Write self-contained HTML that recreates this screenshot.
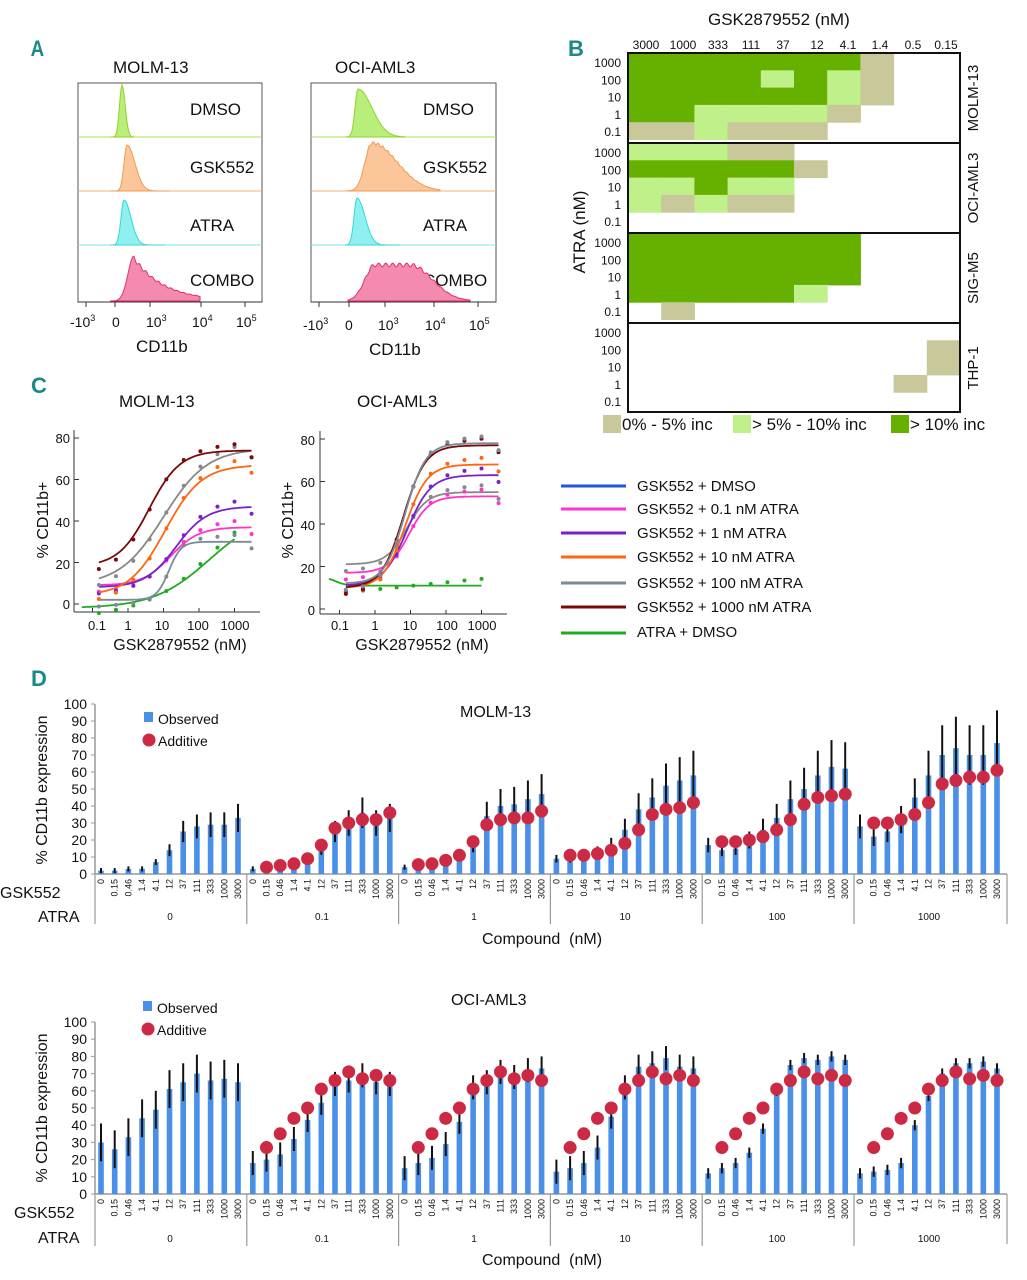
<!DOCTYPE html>
<html><head><meta charset="utf-8"><style>
html,body{margin:0;padding:0;background:#fff}
svg{display:block;font-family:"Liberation Sans",sans-serif}
.L{font-family:"Liberation Sans",sans-serif;font-weight:bold;fill:#188a8a;font-size:22px}
</style></head><body>
<svg id="s" width="1027" height="1280" viewBox="0 0 1027 1280" xmlns="http://www.w3.org/2000/svg">
<rect width="1027" height="1280" fill="#fff"/>
<text class="L" x="31" y="56" transform="scale(0.85,1) translate(5,0)">A</text>
<text class="L" x="568" y="56">B</text>
<text class="L" x="31" y="393">C</text>
<text class="L" x="31" y="686">D</text>

<!-- Panel A -->
<g font-size="17" fill="#111">
<text x="113" y="73">MOLM-13</text>
<text x="335" y="73">OCI-AML3</text>
<g font-size="17">
<text x="190" y="115">DMSO</text><text x="190" y="173">GSK552</text><text x="190" y="231">ATRA</text><text x="190" y="286">COMBO</text>
<text x="423" y="115">DMSO</text><text x="423" y="173">GSK552</text><text x="423" y="231">ATRA</text><text x="423" y="286">COMBO</text>
</g>
<g font-size="14">
<text x="70" y="327">-10<tspan font-size="9" dy="-6">3</tspan></text><text x="112" y="327">0</text><text x="146" y="327">10<tspan font-size="9" dy="-6">3</tspan></text><text x="192" y="327">10<tspan font-size="9" dy="-6">4</tspan></text><text x="236" y="327">10<tspan font-size="9" dy="-6">5</tspan></text>
<text x="303" y="330">-10<tspan font-size="9" dy="-6">3</tspan></text><text x="345" y="330">0</text><text x="378" y="330">10<tspan font-size="9" dy="-6">3</tspan></text><text x="425" y="330">10<tspan font-size="9" dy="-6">4</tspan></text><text x="469" y="330">10<tspan font-size="9" dy="-6">5</tspan></text>
</g>
<text x="136" y="352">CD11b</text>
<text x="369" y="355">CD11b</text>
</g>
<g id="A"></g>

<!-- Panel B -->
<g id="B"></g>
<g fill="#111">
<text x="708" y="25" font-size="17">GSK2879552 (nM)</text>
<g font-size="12" text-anchor="middle">
<text x="646" y="49">3000</text><text x="683" y="49">1000</text><text x="718" y="49">333</text><text x="751" y="49">111</text><text x="783" y="49">37</text><text x="817" y="49">12</text><text x="848" y="49">4.1</text><text x="880" y="49">1.4</text><text x="913" y="49">0.5</text><text x="946" y="49">0.15</text>
</g>
<g font-size="12" text-anchor="end" id="Brows"></g>
<text transform="translate(585,232) rotate(-90)" font-size="17" text-anchor="middle">ATRA (nM)</text>
<g font-size="15" text-anchor="middle">
<text transform="translate(978,98) rotate(-90)">MOLM-13</text>
<text transform="translate(978,188) rotate(-90)">OCI-AML3</text>
<text transform="translate(978,278) rotate(-90)">SIG-M5</text>
<text transform="translate(978,368) rotate(-90)">THP-1</text>
</g>
<g font-size="17">
<rect x="603" y="415" width="18" height="18" fill="#c8c89a"/><text x="622" y="430">0% - 5% inc</text>
<rect x="733" y="415" width="18" height="18" fill="#bff08a"/><text x="752" y="430">&gt; 5% - 10% inc</text>
<rect x="891" y="415" width="18" height="18" fill="#66b000"/><text x="910" y="430">&gt; 10% inc</text>
</g>
</g>

<!-- Panel C -->
<g fill="#111">
<text x="119" y="407" font-size="17">MOLM-13</text>
<text x="357" y="407" font-size="17">OCI-AML3</text>
<g font-size="13" text-anchor="end">
<text x="70" y="443">80</text><text x="70" y="485">60</text><text x="70" y="527">40</text><text x="70" y="569">20</text><text x="70" y="609">0</text>
<text x="315" y="445">80</text><text x="315" y="487">60</text><text x="315" y="530">40</text><text x="315" y="573">20</text><text x="315" y="615">0</text>
</g>
<g font-size="13" text-anchor="middle">
<text x="97" y="630">0.1</text><text x="128" y="630">1</text><text x="162" y="630">10</text><text x="198" y="630">100</text><text x="235" y="630">1000</text>
<text x="340" y="630">0.1</text><text x="375" y="630">1</text><text x="410" y="630">10</text><text x="447" y="630">100</text><text x="482" y="630">1000</text>
</g>
<g font-size="16" text-anchor="middle">
<text x="180" y="650">GSK2879552 (nM)</text>
<text x="422" y="650">GSK2879552 (nM)</text>
<text transform="translate(48,520) rotate(-90)">% CD11b+</text>
<text transform="translate(293,520) rotate(-90)">% CD11b+</text>
</g>
<g font-size="15">
<text x="637" y="491">GSK552 + DMSO</text>
<text x="637" y="514">GSK552 + 0.1 nM ATRA</text>
<text x="637" y="538">GSK552 + 1 nM ATRA</text>
<text x="637" y="562">GSK552 + 10 nM ATRA</text>
<text x="637" y="588">GSK552 + 100 nM ATRA</text>
<text x="637" y="612">GSK552 + 1000 nM ATRA</text>
<text x="637" y="637">ATRA + DMSO</text>
</g>
</g>
<g id="C"></g>

<!-- Panel D -->
<g id="D"></g>
<g fill="#111">
<text x="460" y="717" font-size="16">MOLM-13</text>
<text x="451" y="1005" font-size="16">OCI-AML3</text>
<g font-size="14">
<text x="158" y="724">Observed</text><text x="158" y="746">Additive</text>
<text x="157" y="1013">Observed</text><text x="157" y="1035">Additive</text>
</g>
<g font-size="16">
<text x="0" y="898">GSK552</text><text x="38" y="922">ATRA</text>
<text x="14" y="1218">GSK552</text><text x="38" y="1243">ATRA</text>
<text x="482" y="944">Compound&#160; (nM)</text>
<text x="482" y="1265">Compound&#160; (nM)</text>
</g>
<g font-size="16" text-anchor="middle">
<text transform="translate(47,790) rotate(-90)">% CD11b expression</text>
<text transform="translate(47,1108) rotate(-90)">% CD11b expression</text>
</g>
<g font-size="10" text-anchor="middle">
<text x="170" y="920">0</text><text x="322" y="920">0.1</text><text x="474" y="920">1</text><text x="625" y="920">10</text><text x="777" y="920">100</text><text x="929" y="920">1000</text>
<text x="170" y="1242">0</text><text x="322" y="1242">0.1</text><text x="474" y="1242">1</text><text x="625" y="1242">10</text><text x="777" y="1242">100</text><text x="929" y="1242">1000</text>
</g>
<g id="Dy" font-size="14" text-anchor="end"></g>
<g id="Dx" font-size="9" text-anchor="end"></g>
</g>
</svg>
<script>
var NS="http://www.w3.org/2000/svg";
function el(p,t,a,txt){var e=document.createElementNS(NS,t);for(var k in a)e.setAttribute(k,a[k]);if(txt!==undefined)e.textContent=txt;document.getElementById(p).appendChild(e);return e;}
// Panel A
function hist(x0,x1,yb,h,f,stroke,fill){var d="M"+x0+","+yb;for(var x=x0;x<=x1;x+=1){d+=" L"+x+","+(yb-h*f(x)).toFixed(1);}d+=" L"+x1+","+yb+"Z";el("A","path",{d:d,fill:fill,stroke:stroke,"stroke-width":1});}
function sk(c,wl,wr){return function(x){var w=x<c?wl:wr;return Math.exp(-Math.pow((x-c)/w,2)/2);}}
[[78,262],[311,496]].forEach(function(b,i){el("A","rect",{x:b[0],y:83,width:b[1]-b[0],height:219,fill:"none",stroke:"#555","stroke-width":1});
 [[137,"#a8e060"],[191,"#f5b07a"],[245,"#7ee8ee"]].forEach(function(a){el("A","line",{x1:b[0],x2:b[1],y1:a[0],y2:a[0],stroke:a[1]});});
 el("A","line",{x1:b[0],x2:b[1],y1:302,y2:302,stroke:"#333"});
});
var wig=function(f,a){return function(x){return f(x)*(1+a*Math.sin(x*1.3));};};
hist(110,135,137,52,sk(122,2.5,3.2),"#8cd42a","#b9ee7a");
hist(110,170,191,46,sk(127,3,8),"#f09a50","#fbc79a");
hist(110,165,245,45,sk(124,3,7),"#35d8d8","#8ff0f0");
hist(110,200,301,45,function(x){return x<134?Math.exp(-Math.pow((x-134)/6,2)/2):Math.exp(-(x-134)/30)*(0.95+0.05*Math.sin(x));},"#e0306a","#f58ab0");
hist(345,405,137,48,sk(358,3,14),"#8cd42a","#b9ee7a");
hist(347,440,191,48,wig(sk(372,7,25),0.03),"#f09a50","#fbc79a");
hist(345,400,245,47,sk(357,3,8),"#35d8d8","#8ff0f0");
hist(348,470,301,38,function(x){var v=x<375?Math.exp(-Math.pow((x-375)/10,2)/2):(x<410?1:Math.exp(-Math.pow((x-410)/22,2)/2));return v*(0.95+0.05*Math.sin(x*0.9));},"#e0306a","#f58ab0");
[[86,115,150,201,245],[319,349,385,434,478]].forEach(function(t){t.forEach(function(x){el("A","line",{x1:x,x2:x,y1:302,y2:307,stroke:"#333"});});});
// Panel B
var C=["none","#c8c89a","#bff08a","#66b000"];
var B=[
[[3,3,3,3,3,3,3,1,0,0],[3,3,3,3,2,3,2,1,0,0],[3,3,3,3,3,3,2,1,0,0],[3,3,2,2,2,2,1,0,0,0],[1,1,2,1,1,1,0,0,0,0]],
[[2,2,2,1,1,0,0,0,0,0],[3,3,3,3,3,1,0,0,0,0],[2,2,3,2,2,0,0,0,0,0],[2,1,2,1,1,0,0,0,0,0],[0,0,0,0,0,0,0,0,0,0]],
[[3,3,3,3,3,3,3,0,0,0],[3,3,3,3,3,3,3,0,0,0],[3,3,3,3,3,3,3,0,0,0],[3,3,3,3,3,2,0,0,0,0],[0,1,0,0,0,0,0,0,0,0]],
[[0,0,0,0,0,0,0,0,0,0],[0,0,0,0,0,0,0,0,0,1],[0,0,0,0,0,0,0,0,0,1],[0,0,0,0,0,0,0,0,1,0],[0,0,0,0,0,0,0,0,0,0]]];
var tops=[53,143,233,323],cw=33.2,rh=17.3,labs=["1000","100","10","1","0.1"];
B.forEach(function(p,pi){p.forEach(function(r,ri){r.forEach(function(v,ci){if(v)el("B","rect",{x:628+ci*cw,y:tops[pi]+ri*rh,width:cw+0.5,height:rh+0.5,fill:C[v]});});
 el("Brows","text",{x:621,y:tops[pi]+ri*rh+14},labs[ri]);});});
el("B","rect",{x:628,y:53,width:332,height:359,fill:"none",stroke:"#111","stroke-width":2});
[143,233,323].forEach(function(y){el("B","line",{x1:628,x2:960,y1:y,y2:y,stroke:"#111","stroke-width":2});});
// Panel C
function plot(ax){el("C","line",{x1:ax.x0,x2:ax.x0,y1:ax.ytop-8,y2:ax.xa,stroke:"#333"});el("C","line",{x1:ax.x0,x2:ax.xend,y1:ax.xa,y2:ax.xa,stroke:"#333"});
 [0,20,40,60,80].forEach(function(v){var y=ax.y0-(ax.y0-ax.ytop)*v/80;el("C","line",{x1:ax.x0,x2:ax.x0+5,y1:y,y2:y,stroke:"#333"});});
 for(var d=-1;d<=3;d++){var x=ax.xd(d);el("C","line",{x1:x,x2:x,y1:ax.xa,y2:ax.xa-4,stroke:"#333"});}}
function cur(ax,col,b,t,ec,s,l0,l1){var d="";for(var l=l0;l<=l1+1e-6;l+=0.05){var v=b+(t-b)/(1+Math.pow(10,(ec-l)*s));var x=ax.xd(l),y=ax.y0-(ax.y0-ax.ytop)*v/80;d+=(d?" L":"M")+x.toFixed(1)+","+y.toFixed(1);}
 el("C","path",{d:d,fill:"none",stroke:col,"stroke-width":1.8});
 [-0.82,-0.34,0.15,0.61,1.08,1.57,2.04,2.52,3,3.48].forEach(function(l,i){if(l<l0-0.01||l>l1+0.01)return;var v=b+(t-b)/(1+Math.pow(10,(ec-l)*s))+((i*37)%9-4)*0.8;el("C","circle",{cx:ax.xd(l),cy:ax.y0-(ax.y0-ax.ytop)*v/80,r:2,fill:col});});}
var m={x0:74,xend:260,y0:604,ytop:438,xa:612,xd:function(l){return 128+l*35.5;}};
var o={x0:320,xend:507,y0:609,ytop:439,xa:614,xd:function(l){return 375+l*35.5;}};
plot(m);plot(o);
cur(m,"#22aa22",-2,45,2.3,0.55,-1.3,3);
cur(m,"#7a8a96",2,30,1.15,2.5,-0.82,3.48);
cur(m,"#ff33cc",9,37,1.2,1.1,-0.82,3.48);
cur(m,"#7722cc",8,47,1.35,1.0,-0.82,3.48);
cur(m,"#ff6611",4,67,1.05,0.85,-0.82,3.48);
cur(m,"#888888",9,75,1.0,0.7,-0.82,3.48);
cur(m,"#7a0a0a",18,74,0.6,1.0,-0.82,3.48);
cur(o,"#22aa22",11,15,-1.1,-3,-1.3,3);
cur(o,"#888888",21,55,0.9,1.5,-0.82,3.48);
cur(o,"#ff33cc",17,53,0.95,1.5,-0.82,3.48);
cur(o,"#7722cc",11,63,0.9,1.3,-0.82,3.48);
cur(o,"#ff6611",10,68,0.85,1.4,-0.82,3.48);
cur(o,"#7a0a0a",10,77,0.8,1.4,-0.82,3.48);
cur(o,"#7a8a96",12,78,0.85,1.5,-0.82,3.48);
[["#2255dd",486],["#ff33cc",509],["#7722cc",533],["#ff6611",557],["#7a8a96",583],["#7a0a0a",607],["#22aa22",633]].forEach(function(a){el("C","line",{x1:561,x2:626,y1:a[1],y2:a[1],stroke:a[0],"stroke-width":3});});
// Panel D
var xl=["0","0.15","0.46","1.4","4.1","12","37","111","333","1000","3000"];
function chart(y0,sc,obs,err,add){
 el("D","line",{x1:95,x2:95,y1:y0-100*sc,y2:y0,stroke:"#999","stroke-width":1.5});
 el("D","line",{x1:95,x2:1007,y1:y0,y2:y0,stroke:"#999","stroke-width":1.5});
 for(var v=0;v<=100;v+=10){el("Dy","text",{x:87,y:y0-v*sc+5},""+v);el("D","line",{x1:91,x2:95,y1:y0-v*sc,y2:y0-v*sc,stroke:"#999"});}
 for(var g=0;g<6;g++){var gx=95+g*151.8;el("D","line",{x1:gx,x2:gx,y1:y0,y2:y0+(y0<1000?50:52),stroke:"#999","stroke-width":1.2});
  for(var i=0;i<11;i++){var x=gx+6+i*13.7,v=obs[g][i],e=err[g][i];
   el("D","rect",{x:x-2.8,y:y0-v*sc,width:5.6,height:v*sc,fill:"#4a90e8"});
   el("D","line",{x1:x,x2:x,y1:y0-(v+e)*sc,y2:y0-Math.max(0,v-e)*sc,stroke:"#111","stroke-width":2});
   el("Dx","text",{transform:"translate("+(x+3)+","+(y0+5)+") rotate(-90)"},xl[i]);
  }
  if(g>0)for(var i=1;i<11;i++){var x=gx+6+i*13.7;el("D","circle",{cx:x,cy:y0-add[g][i-1]*sc,r:6.5,fill:"#cc2a44"});}
 }
 el("D","line",{x1:1007,x2:1007,y1:y0,y2:y0+50,stroke:"#999","stroke-width":1.2});
}
var mo=[[2,2,3,3,7,14,25,28,29,29,33],[3,4,4,5,8,15,25,30,36,30,33],[4,5,5,7,10,17,34,40,41,44,47],[9,9,10,13,17,26,38,45,52,55,58],[17,14,15,20,26,33,44,50,58,63,62],[28,22,25,32,45,58,70,74,70,70,77]];
var me=mo.map(function(r){return r.map(function(v){return Math.max(1.5,v*0.25);});});
var ma=[null,[4,5,6,9,17,27,30,32,32,36],[5.5,6,8,11,19,29,32,33,33,37],[11,11,12,14,18,26,35,38,39,42],[19,19,20,22,26,32,41,45,46,47],[30,30,32,35,42,53,55,57,57,61]];
chart(874,1.7,mo,me,ma);
var oo=[[30,26,33,44,49,61,65,70,66,67,65],[18,20,23,32,43,53,64,66,69,65,64],[15,18,21,29,42,62,65,71,68,72,73],[13,15,18,27,45,62,74,76,79,74,73],[12,15,18,24,38,60,75,79,78,80,78],[12,13,14,18,40,57,70,76,76,77,73]];
var oe=oo.map(function(r,g){return r.map(function(v){return g==0?11:(g>=4?3:7);});});
var oa=[null];for(var g=1;g<6;g++)oa.push([27,35,44,50,61,66,71,67,69,66]);
chart(1194,1.72,oo,oe,oa);
el("D","rect",{x:144,y:712,width:9,height:10,fill:"#4a90e8"});el("D","circle",{cx:149,cy:740,r:6.5,fill:"#cc2a44"});
el("D","rect",{x:143,y:1001,width:9,height:10,fill:"#4a90e8"});el("D","circle",{cx:148,cy:1029,r:6.5,fill:"#cc2a44"});
</script>
</body></html>
